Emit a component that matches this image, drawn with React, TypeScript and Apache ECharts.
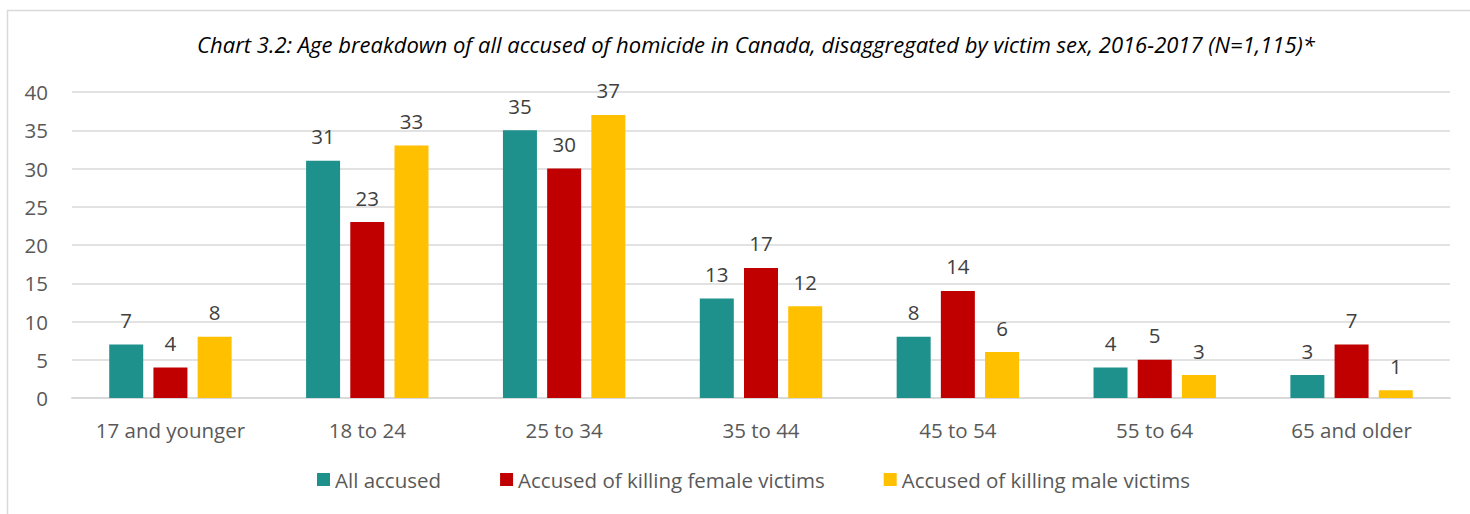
import React, { useEffect, useRef } from "react";
import * as echarts from "echarts";

const categories = ["17 and younger", "18 to 24", "25 to 34", "35 to 44", "45 to 54", "55 to 64", "65 and older"];
const allAccused = [7, 31, 35, 13, 8, 4, 3];
const femaleVictims = [4, 23, 30, 17, 14, 5, 7];
const maleVictims = [8, 33, 37, 12, 6, 3, 1];
const seriesNames = ["All accused", "Accused of killing female victims", "Accused of killing male victims"];
const colors = ["#1f918c", "#c00000", "#ffc000"];
const titleText = "Chart 3.2: Age breakdown of all accused of homicide in Canada, disaggregated by victim sex, 2016-2017 (N=1,115)*";

const FONT = "'Open Sans', 'Noto Sans', sans-serif";

export default function App() {
  const ref = useRef<HTMLDivElement>(null);
  useEffect(() => {
    if (!ref.current) return;
    const chart = echarts.init(ref.current, undefined, { renderer: "svg" });
    const data = [allAccused, femaleVictims, maleVictims];
    chart.setOption({
      animation: false,
      backgroundColor: "#ffffff",
      textStyle: { fontFamily: FONT },
      title: {
        text: titleText,
        left: 751,
        textAlign: "center",
        top: 28,
        textStyle: { fontFamily: FONT, fontStyle: "italic", fontWeight: "normal", fontSize: 22, color: "#000000" },
      },
      graphic: [
        {
          type: "rect",
          shape: { x: 7.5, y: 10.5, width: 1500, height: 600 },
          style: { fill: "none", stroke: "#d9d9d9", lineWidth: 1.5 },
          silent: true,
        },
      ],
      legend: {
        bottom: 19,
        left: 312,
        itemWidth: 13,
        itemHeight: 13,
        itemGap: 59,
        icon: "rect",
        textStyle: { fontFamily: FONT, fontSize: 20.5, color: "#595959" },
        data: seriesNames,
      },
      grid: { left: 72, right: 20, top: 92, bottom: 116 },
      xAxis: {
        type: "category",
        data: categories,
        axisLine: { lineStyle: { color: "#d9d9d9", width: 2 } },
        axisTick: { show: false },
        axisLabel: { fontFamily: FONT, fontSize: 20.5, color: "#595959", margin: 21 },
      },
      yAxis: {
        type: "value",
        min: 0,
        max: 40,
        interval: 5,
        axisLine: { show: false },
        axisTick: { show: false },
        splitLine: { lineStyle: { color: "#d9d9d9", width: 1.5 } },
        axisLabel: { fontFamily: FONT, fontSize: 20.5, color: "#595959", margin: 24 },
      },
      series: seriesNames.map((name, i) => ({
        name,
        type: "bar",
        data: data[i],
        barWidth: 34,
        barGap: "30%",
        itemStyle: { color: colors[i] },
        label: {
          show: true,
          position: "top",
          distance: 14,
          fontFamily: FONT,
          fontSize: 20.5,
          color: "#404040",
        },
      })),
    });
    return () => chart.dispose();
  }, []);
  return <div ref={ref} style={{ position: "fixed", left: 0, top: 0, width: 1470, height: 514 }} />;
}
